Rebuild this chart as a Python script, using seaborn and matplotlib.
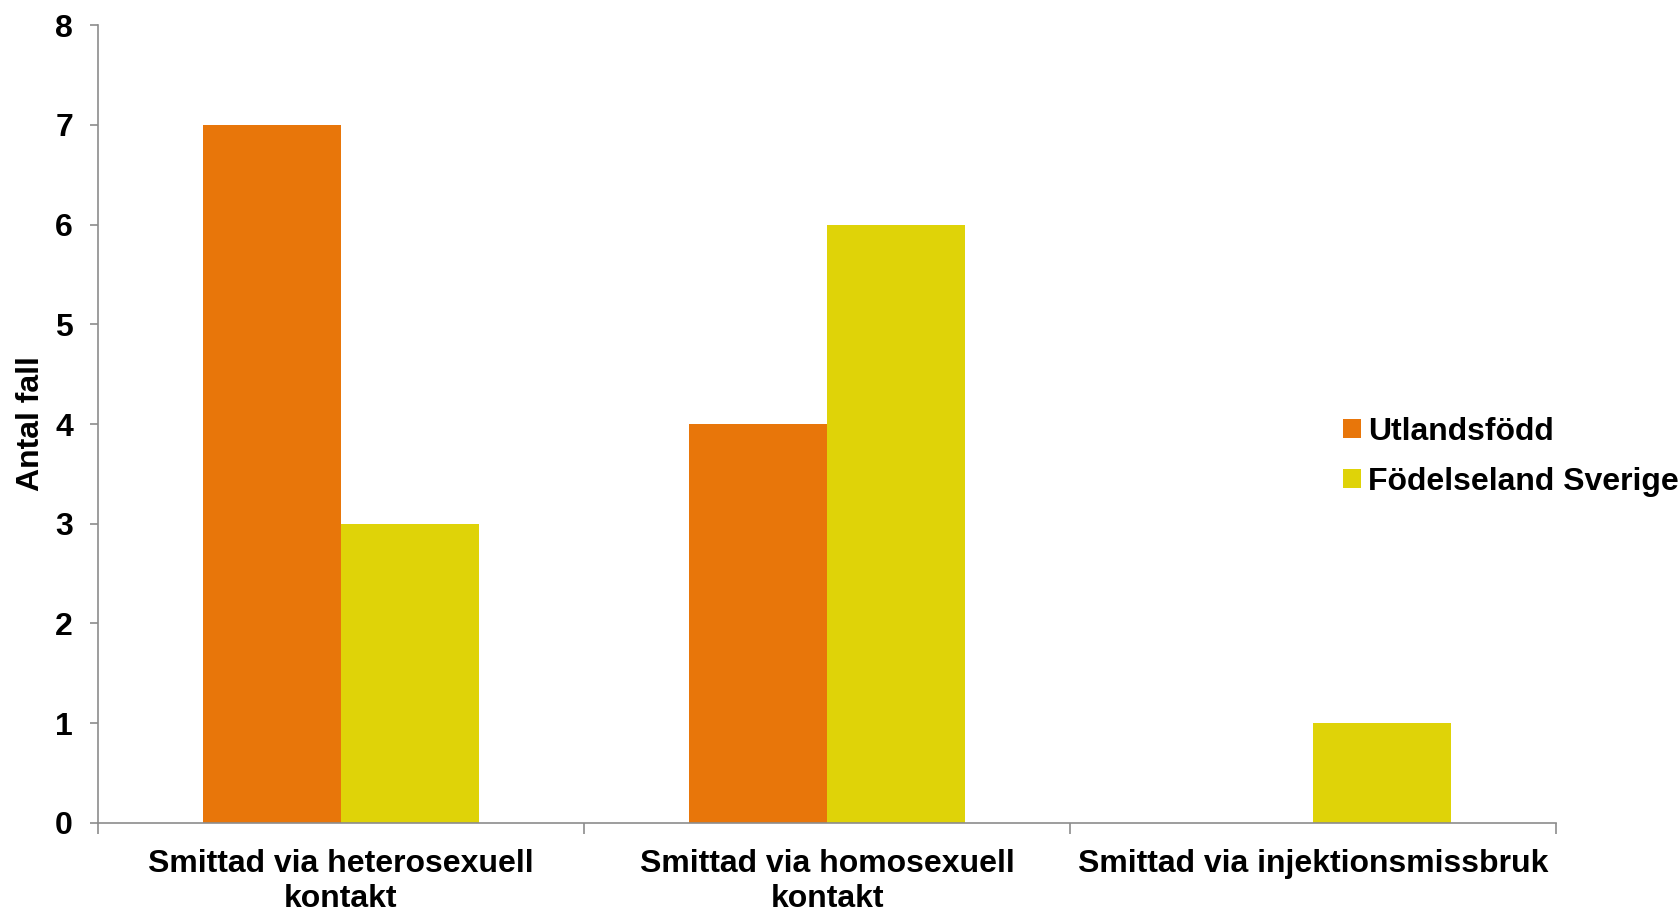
import matplotlib
matplotlib.use("Agg")
import matplotlib.pyplot as plt
import seaborn as sns
import pandas as pd

# data
categories = ["Smittad via heterosexuell\nkontakt",
              "Smittad via homosexuell\nkontakt",
              "Smittad via injektionsmissbruk"]
utlandsfodd = [7, 4, 0]
sverige = [3, 6, 1]
series = ["Utlandsfödd", "Födelseland Sverige"]
colors = ["#E8760A", "#DFD308"]

df = pd.DataFrame({
    "Kategori": categories * 2,
    "Antal": utlandsfodd + sverige,
    "Grupp": [series[0]] * 3 + [series[1]] * 3,
})

sns.set_style("white")
plt.rcParams["font.family"] = ["Liberation Sans", "DejaVu Sans"]
plt.rcParams["font.weight"] = "bold"
plt.rcParams["text.color"] = "black"
plt.rcParams["xtick.labelcolor"] = "black"
plt.rcParams["ytick.labelcolor"] = "black"
plt.rcParams["axes.labelcolor"] = "black"

fig = plt.figure(figsize=(16.78, 9.14), dpi=100)
ax = fig.add_axes([0.0584, 0.0996, 0.8689, 0.873])

sns.barplot(data=df, x="Kategori", y="Antal", hue="Grupp",
            palette=colors, width=0.566, saturation=1, linewidth=0, ax=ax)

ax.set_xlim(-0.5, 2.5)
ax.set_ylim(0, 8)
ax.set_yticks(range(0, 9))

for side in ["top", "right"]:
    ax.spines[side].set_visible(False)
for side in ["left", "bottom"]:
    ax.spines[side].set_color("#8c8c8c")
    ax.spines[side].set_linewidth(1.2)

ax.tick_params(axis="y", left=True, length=6, width=1.2, color="#8c8c8c",
               pad=12, labelsize=23)
ax.tick_params(axis="x", which="major", length=0, pad=19, labelsize=23)
ax.set_xticks([-0.5, 0.5, 1.5, 2.5], minor=True)
ax.tick_params(axis="x", which="minor", bottom=True, length=8, width=1.2,
               color="#8c8c8c", direction="out")
for lab in ax.get_xticklabels() + ax.get_yticklabels():
    lab.set_fontweight("bold")

ax.set_xlabel("")
ax.set_ylabel("Antal fall", fontsize=23, fontweight="bold")
ax.yaxis.set_label_coords(-0.036, 0.50)

ax.legend(loc="center left", bbox_to_anchor=(0.8003, 0.5),
          bbox_transform=fig.transFigure, frameon=False,
          prop={"size": 23, "weight": "bold"},
          handlelength=0.56, handleheight=0.56, handletextpad=0.22,
          labelspacing=0.63, borderaxespad=0, borderpad=0)

fig.savefig("out.png", dpi=100)
